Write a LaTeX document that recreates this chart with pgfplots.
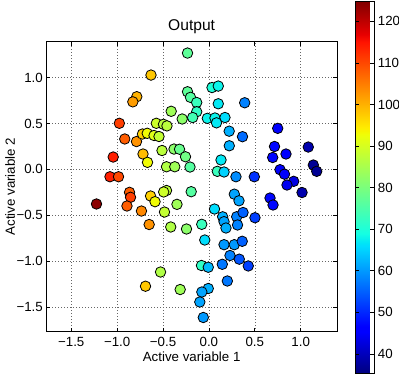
\documentclass[border=0pt]{standalone}
\usepackage{fontspec}
\setmainfont{Liberation Sans}
\usepackage{pgfplots}
\usepackage{pgfplotstable}
\pgfplotsset{compat=1.18}
\pgfplotsset{colormap={mpljet}{rgb(0pt)=(0,0,0.5) rgb(110pt)=(0,0,1) rgb(125pt)=(0,0,1) rgb(340pt)=(0,0.86,1) rgb(350pt)=(0,0.9,0.968) rgb(375pt)=(0.081,1,0.887) rgb(640pt)=(0.935,1,0.032) rgb(650pt)=(0.968,0.963,0) rgb(660pt)=(1,0.926,0) rgb(890pt)=(1,0.074,0) rgb(910pt)=(0.909,0,0) rgb(1000pt)=(0.5,0,0)}}
\pgfplotstableread{
x y c
-0.233 1.269 77
-0.631 1.029 98
-0.786 0.793 100
-0.829 0.737 102
-0.976 0.503 111
-0.411 0.634 84
-0.291 0.550 82
-0.233 0.847 77
-0.201 0.786 76
-0.133 0.730 73
-0.133 0.629 72
-0.177 0.566 74
-0.017 0.557 68
0.066 0.561 68
0.175 0.566 66
0.083 0.508 67
0.034 0.893 70
0.102 0.909 68
0.102 0.716 67
0.390 0.727 58
0.221 0.417 62
0.366 0.357 56
0.750 0.448 46
-0.573 0.503 89
-0.495 0.492 87
-0.457 0.475 87
-0.917 0.332 108
-0.789 0.304 103
-0.724 0.386 97
-0.672 0.394 93
-0.598 0.370 91
-0.544 0.359 88
-1.043 0.135 114
-0.718 0.168 99
-0.669 0.077 93
-0.511 0.206 87
-0.380 0.222 82
-0.320 0.220 78
-0.255 0.138 79
-0.206 0.026 76
-0.462 0.029 86
-0.372 0.029 84
-1.078 -0.080 114
-0.985 -0.080 110
0.222 0.258 62
0.132 0.103 67
0.092 -0.021 73
0.165 -0.028 65
0.295 -0.080 59
0.495 -0.080 51
0.715 0.250 47
0.840 0.168 46
0.695 0.130 47
1.083 0.244 39
1.138 0.048 37
1.175 -0.021 37
0.775 -0.003 45
0.824 -0.052 45
0.924 -0.130 43
0.851 -0.170 44
1.015 -0.252 39
0.277 -0.270 61
0.328 -0.342 61
0.666 -0.312 47
0.699 -0.388 47
0.061 -0.432 66
0.150 -0.517 62
0.165 -0.570 61
0.186 -0.639 62
0.303 -0.516 58
0.372 -0.470 55
0.312 -0.606 58
0.502 -0.527 52
-0.078 -0.599 73
-0.193 -0.243 76
-0.865 -0.250 108
-0.854 -0.304 111
-0.893 -0.399 108
-1.225 -0.377 124
-0.735 -0.454 104
-0.636 -0.290 97
-0.587 -0.352 93
-0.462 -0.230 87
-0.493 -0.246 89
-0.484 -0.465 88
-0.348 -0.381 84
-0.651 -0.601 103
-0.416 -0.628 86
-0.244 -0.650 82
-0.045 -0.770 66
-0.081 -1.048 72
-0.007 -1.067 63
0.146 -1.035 57
0.165 -0.821 60
0.277 -0.821 60
0.363 -0.784 55
0.230 -0.939 58
0.331 -0.979 54
0.429 -1.053 52
0.201 -1.217 57
-0.007 -1.299 62
-0.077 -1.337 61
-0.099 -1.446 61
-0.061 -1.615 60
-0.527 -1.119 86
-0.691 -1.274 98
-0.313 -1.310 84
}\pts
\begin{document}
\begin{tikzpicture}
\begin{axis}[
  at={(0,0)}, anchor=south west,
  scale only axis, width=290.7pt, height=290pt,
  xmin=-1.772, xmax=1.396, ymin=-1.770, ymax=1.393,
  xtick={-1.5,-1,-0.5,0,0.5,1},
  xticklabels={−1.5,−1.0,−0.5,0.0,0.5,1.0},
  ytick={-1.5,-1,-0.5,0,0.5,1},
  yticklabels={−1.5,−1.0,−0.5,0.0,0.5,1.0},
  tick align=inside, tick pos=both,
  major tick length=4pt,
  tick style={black, line width=0.6pt},
  axis line style={black, line width=0.8pt},
  grid=major,
  grid style={black!60, line width=0.5pt, dash pattern=on 1pt off 2pt},
  every tick label/.append style={font=\fontsize{13.3}{15}\selectfont},
  xticklabel style={yshift=-2pt},
  xlabel={Active variable 1},
  ylabel={Active variable 2},
  title={Output},
  xlabel style={font=\fontsize{13.3}{15}\selectfont, at={(axis description cs:0.5,-0.1035)}, anchor=base},
  ylabel style={font=\fontsize{13.3}{15}\selectfont, at={(axis description cs:-0.1077,0.5)}, anchor=base},
  title style={font=\fontsize{15.6}{18}\selectfont, at={(axis description cs:0.5,1)}, anchor=base, yshift=4.7pt},
  colormap name=mpljet,
  point meta min=35.4, point meta max=124.9,
  colorbar,
  colorbar style={
    scale only axis,
    at={(parent axis.east)}, anchor=west, xshift=9.5pt, yshift=-0.3pt,
    width=19.3pt, height=372pt,
    ytick={40,50,60,70,80,90,100,110,120},
    yticklabels={40,50,60,70,80,90,100,110,120},
    tick align=inside,
    major tick length=4pt,
    tick style={black, line width=0.6pt},
    axis line style={black, line width=0.8pt},
    yticklabel style={font=\fontsize{13.3}{15}\selectfont},
  },
]
\addplot[scatter, only marks, mark=*, mark size=5.25pt, line width=0.8pt,
  point meta=explicit,
  scatter/use mapped color={draw=black, fill=mapped color}]
  table[x=x, y=y, meta=c] {\pts};
\end{axis}
\pgfresetboundingbox
\path (-46.3pt,-43.3pt) rectangle (352.7pt,331.7pt);
\end{tikzpicture}
\end{document}
